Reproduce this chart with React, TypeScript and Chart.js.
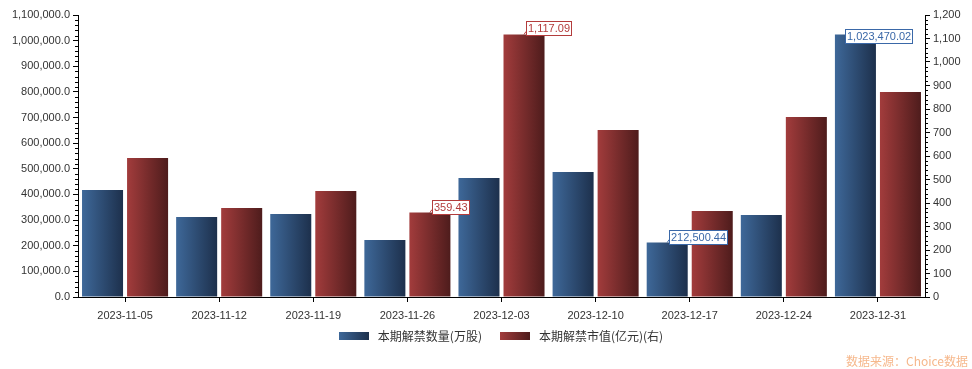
import React, { useEffect, useRef } from "react";
import { Chart, registerables } from "chart.js";

Chart.register(...registerables);

const categories = [
  "2023-11-05", "2023-11-12", "2023-11-19", "2023-11-26", "2023-12-03",
  "2023-12-10", "2023-12-17", "2023-12-24", "2023-12-31",
];
const unlockShares = [417000, 312000, 324000, 222000, 464000, 488000, 212500.44, 320000, 1023470.02];
const unlockValue = [591, 379, 451, 359.43, 1117.09, 711, 366, 766, 872];
const seriesNames = ["本期解禁数量(万股)", "本期解禁市值(亿元)(右)"];
const leftMax = 1100000;
const leftStep = 100000;
const rightMax = 1200;
const rightStep = 100;
const sourceText = "数据来源：Choice数据";

const FONT = '"Liberation Sans", "Noto Sans CJK SC", sans-serif';
const gradStops = [
  ["#3e6899", "#1d304c"],
  ["#a23c3c", "#4e1c1c"],
];
const labelColors = ["#3a68a8", "#b33c3c"];

const fmt2 = (v: number) =>
  v.toLocaleString("en-US", { minimumFractionDigits: 2, maximumFractionDigits: 2 });

const gradientPlugin = {
  id: "barGradient",
  afterLayout(chart: any) {
    const x = chart.scales.x;
    if (x) x.bottom = x.top + 30; // widen label clip region only
    const lg = chart.legend;
    if (lg) {
      const shift = 15;
      lg.left += shift;
      lg.right += shift;
      (lg.legendHitBoxes || []).forEach((hb: any) => { hb.left += shift; });
    }
  },
  beforeDatasetsDraw(chart: any) {
    const ctx = chart.ctx;
    chart.data.datasets.forEach((_: any, di: number) => {
      const meta = chart.getDatasetMeta(di);
      meta.data.forEach((el: any) => {
        const { x, width } = el.getProps(["x", "width"], true);
        const g = ctx.createLinearGradient(x - width / 2, 0, x + width / 2, 0);
        g.addColorStop(0, gradStops[di][0]);
        g.addColorStop(1, gradStops[di][1]);
        el.options.backgroundColor = g;
      });
    });
  },
  afterDraw(chart: any) {
    const ctx = chart.ctx;
    const legend = chart.legend;
    if (legend && legend.legendHitBoxes) {
      legend.legendHitBoxes.forEach((hb: any, i: number) => {
        const bw = 30, bh = 8;
        const y = Math.round(hb.top + (hb.height - bh) / 2);
        const x = Math.round(hb.left);
        const g = ctx.createLinearGradient(x, 0, x + bw, 0);
        g.addColorStop(0, gradStops[i][0]);
        g.addColorStop(1, gradStops[i][1]);
        ctx.save();
        ctx.fillStyle = g;
        ctx.fillRect(x, y, bw, bh);
        ctx.restore();
      });
    }
    const drawMinor = (scale: any, max: number, step: number, left: boolean) => {
      const minor = step / 5;
      ctx.save();
      ctx.strokeStyle = "#000";
      ctx.lineWidth = 1;
      ctx.beginPath();
      for (let k = 0; k * minor <= max + 1e-6; k++) {
        if (k % 5 === 0) continue;
        const y = Math.round(scale.getPixelForValue(k * minor)) + 0.5;
        const x0 = left ? scale.right : scale.left;
        const x1 = left ? x0 - 3 : x0 + 3;
        ctx.moveTo(x0, y);
        ctx.lineTo(x1, y);
      }
      ctx.stroke();
      ctx.restore();
    };
    drawMinor(chart.scales.y, leftMax, leftStep, true);
    drawMinor(chart.scales.y1, rightMax, rightStep, false);
    ctx.save();
    ctx.font = '12px "Noto Sans CJK SC", sans-serif';
    ctx.fillStyle = "#f6b88c";
    ctx.textAlign = "right";
    ctx.textBaseline = "middle";
    ctx.fillText(sourceText, chart.width - 4, chart.height - 8);
    ctx.restore();
  },
  afterDatasetsDraw(chart: any) {
    const ctx = chart.ctx;
    const area = chart.chartArea;
    chart.data.datasets.forEach((ds: any, di: number) => {
      const vals: number[] = ds.data;
      const maxI = vals.indexOf(Math.max(...vals));
      const minI = vals.indexOf(Math.min(...vals));
      const meta = chart.getDatasetMeta(di);
      [maxI, minI].forEach((idx) => {
        const el: any = meta.data[idx];
        const { x, y } = el.getProps(["x", "y"], true);
        const text = fmt2(vals[idx]);
        ctx.save();
        ctx.font = "11px " + FONT;
        const tw = ctx.measureText(text).width;
        const bw = Math.round(tw + 3);
        const bh = 14;
        let left = Math.round(x + 2);
        let bottom = Math.round(y) + 1;
        if (left + bw > area.right - 13) {
          left = Math.round(area.right - 13 - bw);
          bottom += 7;
        }
        const top = bottom - bh;
        ctx.strokeStyle = labelColors[di];
        ctx.lineWidth = 1;
        ctx.beginPath();
        ctx.moveTo(x, y);
        ctx.lineTo(Math.max(left, x + 2), Math.min(bottom, y) - 3);
        ctx.stroke();
        ctx.fillStyle = "#fff";
        ctx.fillRect(left, top, bw, bh);
        ctx.strokeRect(left + 0.5, top + 0.5, bw, bh);
        ctx.fillStyle = labelColors[di];
        ctx.textBaseline = "middle";
        ctx.textAlign = "left";
        ctx.fillText(text, left + 2, top + bh / 2 + 1);
        ctx.restore();
      });
    });
  },
};

export default function App() {
  const ref = useRef<HTMLCanvasElement | null>(null);
  useEffect(() => {
    document.body.style.margin = "0";
    if (!ref.current) return;
    const chart = new Chart(ref.current, {
      type: "bar",
      data: {
        labels: categories,
        datasets: [
          {
            label: seriesNames[0],
            data: unlockShares,
            yAxisID: "y",
            backgroundColor: () => gradStops[0][0],
            borderWidth: 0,
            categoryPercentage: 0.957,
            barPercentage: 0.911,
          },
          {
            label: seriesNames[1],
            data: unlockValue,
            yAxisID: "y1",
            backgroundColor: () => gradStops[1][0],
            borderWidth: 0,
            categoryPercentage: 0.957,
            barPercentage: 0.911,
          },
        ],
      },
      options: {
        animation: false,
        responsive: false,
        maintainAspectRatio: false,
        layout: { padding: { top: 15, bottom: 17, left: 0, right: 0 } },
        plugins: {
          tooltip: { enabled: false },
          legend: {
            position: "bottom",
            labels: {
              boxWidth: 33,
              boxHeight: 8,
              padding: 18,
              color: "#333",
              font: { size: 12, family: '"Noto Sans CJK SC", sans-serif' },
              generateLabels: (chart: any) =>
                Chart.defaults.plugins.legend.labels.generateLabels(chart).map((it: any) => ({
                  ...it,
                  fillStyle: "rgba(0,0,0,0)",
                  strokeStyle: "rgba(0,0,0,0)",
                  lineWidth: 0,
                })),
            },
          },
        },
        scales: {
          x: {
            grid: {
              offset: false,
              drawOnChartArea: false,
              drawTicks: true,
              tickLength: 5,
              color: "#000",
            },
            border: { display: true, color: "#000" },
            ticks: { color: "#333", font: { size: 11, family: FONT }, padding: 7, maxRotation: 0 },
            afterFit: (s: any) => { s.height = 15; },
          },
          y: {
            position: "left",
            min: 0,
            max: leftMax,
            ticks: {
              stepSize: leftStep,
              color: "#333",
              padding: 3,
              font: { size: 11, family: FONT },
              callback: (v: any) =>
                Number(v).toLocaleString("en-US", { minimumFractionDigits: 1, maximumFractionDigits: 1 }),
            },
            grid: { drawOnChartArea: false, tickLength: 5, color: "#000" },
            border: { display: true, color: "#000" },
            afterFit: (s: any) => { s.width = 78; },
          },
          y1: {
            position: "right",
            min: 0,
            max: rightMax,
            ticks: {
              stepSize: rightStep,
              color: "#333",
              padding: 3,
              font: { size: 11, family: FONT },
              callback: (v: any) => Number(v).toLocaleString("en-US"),
            },
            grid: { drawOnChartArea: false, tickLength: 5, color: "#000" },
            border: { display: true, color: "#000" },
            afterFit: (s: any) => { s.width = 47; },
          },
        },
      },
      plugins: [gradientPlugin],
    });
    return () => chart.destroy();
  }, []);
  return (
    <div style={{ width: 972, height: 369, background: "#fff" }}>
      <canvas ref={ref} width={972} height={369} style={{ display: "block" }} />
    </div>
  );
}
